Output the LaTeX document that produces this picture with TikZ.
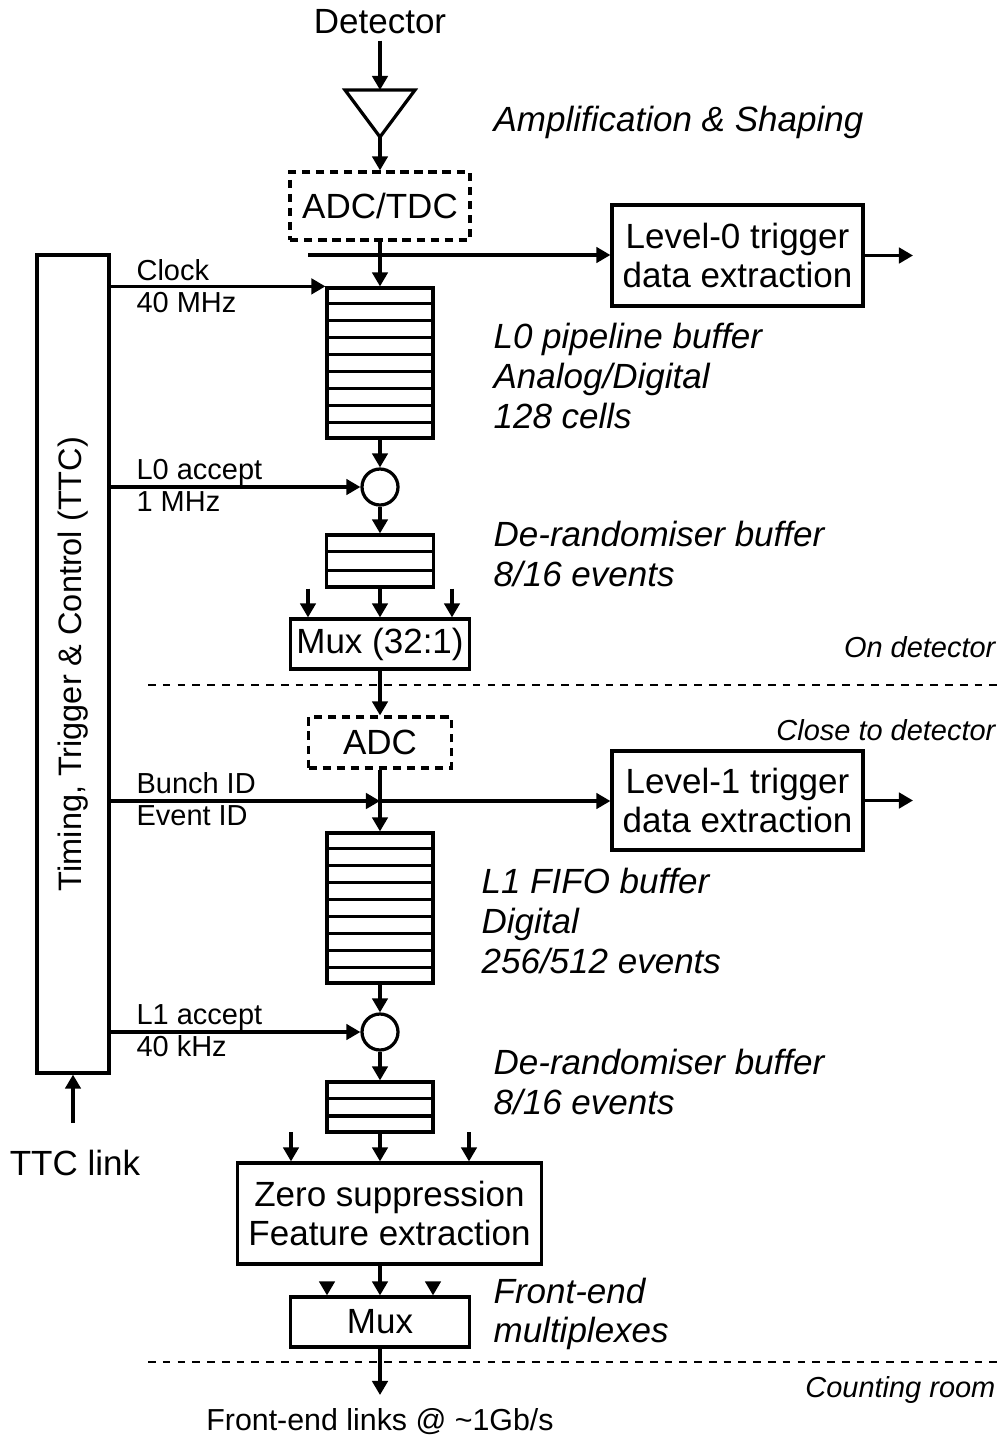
\documentclass[tikz,border=0pt]{standalone}
\usepackage{fontspec}
\setmainfont{Liberation Sans}
\usetikzlibrary{arrows.meta,calc,positioning}

\begin{document}
\begin{tikzpicture}[
    line width=2.3pt,
    big/.style={font=\fontsize{24.9}{28.2}\selectfont},
    small/.style={font=\fontsize{20.6}{23.7}\selectfont},
    box/.style={draw, big, align=center, inner sep=0pt},
    dbox/.style={box, dash pattern=on 6pt off 4pt},
    buf/.style={draw, minimum width=2.65cm, inner sep=0pt},
    acc/.style={draw, circle, minimum size=0.9cm, inner sep=0pt},
    note/.style={font=\fontsize{24.9}{28.2}\selectfont\itshape, align=left, anchor=west, inner sep=0pt},
    zone/.style={font=\fontsize{20.6}{23.7}\selectfont\itshape, anchor=east, inner sep=0pt},
    lbl/.style={small, anchor=base west, inner sep=0pt},
    arr/.style={-{Triangle[length=10pt,width=11pt]}},
    sep/.style={line width=1.4pt, dash pattern=on 5.5pt off 5pt}
  ]
  \useasboundingbox (0,0) rectangle (25.2,-36.075);

  % detector and front amplifier
  \node[big] (det) at (9.5,-0.55) {Detector};
  \coordinate (ampin) at (9.5,-2.25);
  \coordinate (ampout) at (9.5,-3.425);
  \draw (8.625,-2.25) -- (10.375,-2.25) -- (ampout) -- cycle;
  \node[note] (ampnote) at (12.3,-3.05) {Amplification \& Shaping};
  \draw[arr] (det) -- (ampin);

  \node[dbox, minimum width=4.5cm, minimum height=1.7cm] (adc1) at (9.5,-5.15) {ADC/TDC};
  \draw[arr] (ampout) -- (adc1);

  % timing, trigger and control
  \node[draw, minimum width=1.8cm, minimum height=20.45cm] (ttc) at (1.825,-16.6) {};
  \node[font=\fontsize{23.1}{26.5}\selectfont, rotate=90] (ttclbl) at (ttc) {Timing, Trigger \& Control (TTC)};
  \coordinate (ttcin) at (1.825,-28.075);
  \node[big] (link) at (1.875,-29.075) {TTC link};
  \draw[arr] (ttcin) -- (ttc.south);

  % level-0 stage
  \node[buf, minimum height=3.75cm] (pipe0) at (9.5,-9.075) {};
  \node[box, minimum width=6.275cm, minimum height=2.525cm] (lvl0) at (18.4375,-6.3875)
    {Level-0 trigger\\data extraction};
  \coordinate (tap0) at (7.7,-6.375);
  \coordinate (out0) at (22.825,-6.3875);
  \draw[arr] (tap0) -- (tap0 -| lvl0.west);
  \draw[arr] (lvl0) -- (out0);
  \draw[arr] (adc1) -- (pipe0);
  \draw[arr] (ttc.east |- pipe0.north) -- (pipe0.north west);
  \node[lbl] (clk) at (3.375,-7.0) {Clock};
  \node[lbl] (clkf) at (3.375,-7.8) {40 MHz};
  \node[note] (pipenote) at (12.3,-9.4) {L0 pipeline buffer\\Analog/Digital\\128 cells};

  \node[acc] (acc0) at (9.5,-12.175) {};
  \draw[arr] (pipe0) -- (acc0);
  \draw[arr] (ttc.east |- acc0) -- (acc0);
  \node[lbl] (l0a) at (3.375,-11.975) {L0 accept};
  \node[lbl] (l0f) at (3.375,-12.775) {1 MHz};

  \node[buf, minimum width=2.675cm, minimum height=1.3cm] (der0) at (9.5,-14.025) {};
  \draw[arr] (acc0) -- (der0);
  \node[note] (der0note) at (12.3,-13.85) {De-randomiser buffer\\8/16 events};

  \node[box, minimum width=4.475cm, minimum height=1.25cm] (mux0) at (9.5,-16.1) {Mux (32:1)};
  \draw[arr] (der0) -- (mux0);
  \foreach \dx in {-1.8,1.8}
    \draw[arr] ([xshift=\dx cm]mux0.north |- der0.south) -- ([xshift=\dx cm]mux0.north);

  % boundary on detector / close to detector
  \node[zone] (ondet) at (24.925,-16.175) {On detector};
  \draw[sep] (3.7,-17.125) -- (25.0,-17.125);
  \node[zone] (closedet) at (24.925,-18.25) {Close to detector};

  % level-1 stage
  \node[dbox, minimum width=3.575cm, minimum height=1.275cm] (adc2) at (9.5,-18.5625) {ADC};
  \draw[arr] (mux0) -- (adc2);
  \node[buf, minimum height=3.75cm] (fifo1) at (9.5,-22.7) {};
  \node[box, minimum width=6.275cm, minimum height=2.475cm] (lvl1) at (18.4375,-20.0125)
    {Level-1 trigger\\data extraction};
  \coordinate (tap1) at (9.5,-20.025);
  \coordinate (out1) at (22.825,-20.0125);
  \draw[arr] (adc2) -- (fifo1);
  \draw[arr] (ttc.east |- tap1) -- (tap1);
  \draw[arr] (tap1) -- (tap1 -| lvl1.west);
  \draw[arr] (lvl1) -- (out1);
  \node[lbl] (bid) at (3.375,-19.825) {Bunch ID};
  \node[lbl] (eid) at (3.375,-20.625) {Event ID};
  \node[note] (fifonote) at (12.0,-23.025) {L1 FIFO buffer\\Digital\\256/512 events};

  \node[acc] (acc1) at (9.5,-25.8) {};
  \draw[arr] (fifo1) -- (acc1);
  \draw[arr] (ttc.east |- acc1) -- (acc1);
  \node[lbl] (l1a) at (3.375,-25.6) {L1 accept};
  \node[lbl] (l1f) at (3.375,-26.4) {40 kHz};

  \node[buf, minimum height=1.25cm] (der1) at (9.5,-27.675) {};
  \draw[arr] (acc1) -- (der1);
  \node[note] (der1note) at (12.3,-27.05) {De-randomiser buffer\\8/16 events};

  % buffer cells
  \foreach \b/\n in {pipe0/9,der0/3,fifo1/9,der1/3} {
    \pgfmathtruncatemacro{\m}{\n-1}
    \foreach \k in {1,...,\m}
      \draw ($(\b.north west)!\k/\n!(\b.south west)$) -- ($(\b.north east)!\k/\n!(\b.south east)$);
  }

  % zero suppression and output mux
  \node[box, minimum width=7.6cm, minimum height=2.525cm] (zero) at (9.7375,-30.3375)
    {Zero suppression\\Feature extraction};
  \draw[arr] (der1.south) -- (der1.south |- zero.north);
  \foreach \x in {7.275,11.725}
    \draw[arr] (\x,-28.3) -- (\x,0 |- zero.north);

  \node[box, minimum width=4.475cm, minimum height=1.25cm] (mux1) at (9.5,-33.05) {Mux};
  \draw[arr] (zero.south -| mux1) -- (mux1);
  \foreach \x in {8.175,10.825}
    \draw[arr] (\x,-32.05) -- (\x,0 |- mux1.north);
  \node[note] (muxnote) at (12.3,-32.85) {Front-end\\multiplexes};

  % boundary to counting room
  \draw[sep] (3.7,-34.05) -- (25.0,-34.05);
  \node[zone] (room) at (24.925,-34.75) {Counting room};
  \coordinate (out2) at (9.5,-34.875);
  \draw[arr] (mux1) -- (out2);
  \node[font=\fontsize{21.6}{24.8}\selectfont] (links) at (9.5,-35.55) {Front-end links @ \textasciitilde1Gb/s};
\end{tikzpicture}
\end{document}
